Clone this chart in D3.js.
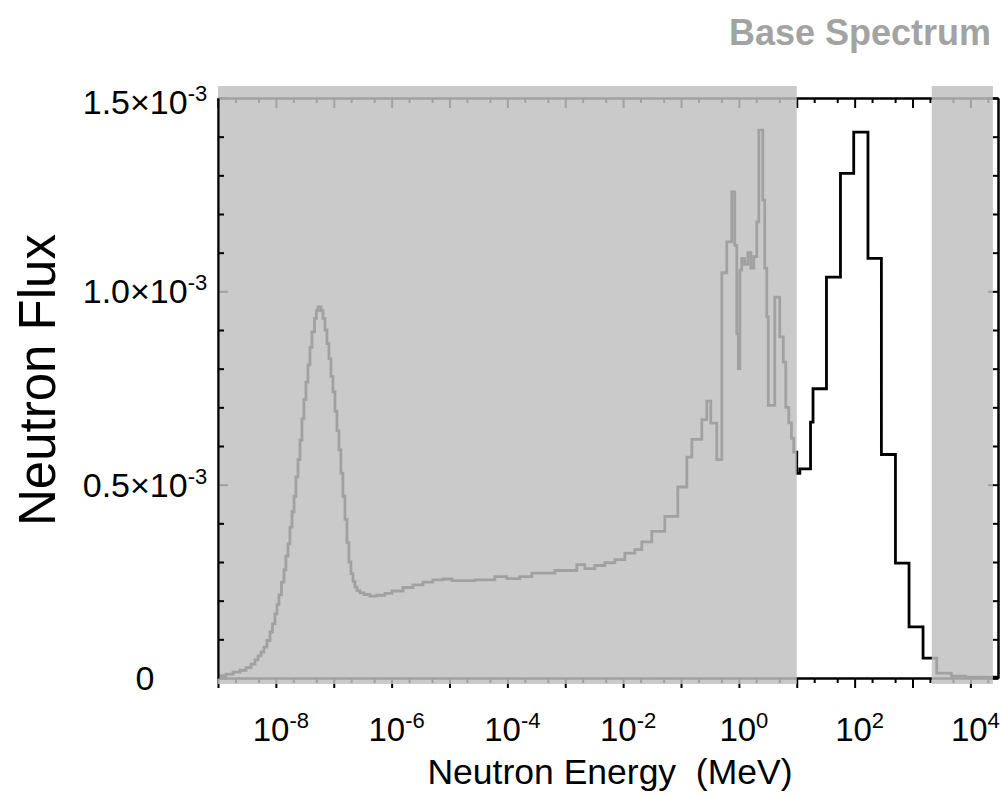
<!DOCTYPE html>
<html>
<head>
<meta charset="utf-8">
<script src="https://cdn.jsdelivr.net/npm/d3@7"></script>
<style>
  html, body { margin: 0; padding: 0; background: #fff; }
  text { font-family: "Liberation Sans", Arial, Helvetica, sans-serif; }
</style>
</head>
<body>
<svg id="chart" width="1001" height="796"></svg>
<script>
// Lower bin edges of the neutron energy groups (MeV); the last entry closes the final bin.
const energyEdges = [
  1.0e-9, 1.37e-9, 1.82e-9, 2.40e-9, 3.05e-9, 3.72e-9, 4.36e-9, 4.91e-9, 5.54e-9, 6.22e-9,
  7.01e-9, 7.91e-9, 8.73e-9, 9.64e-9, 1.045e-8, 1.13e-8, 1.25e-8, 1.38e-8, 1.49e-8, 1.62e-8,
  1.75e-8, 1.90e-8, 2.06e-8, 2.22e-8, 2.41e-8, 2.61e-8, 2.82e-8, 3.05e-8, 3.31e-8, 3.58e-8,
  3.88e-8, 4.20e-8, 4.65e-8, 5.02e-8, 5.33e-8, 6.01e-8, 6.50e-8, 7.05e-8, 7.64e-8, 8.26e-8,
  8.95e-8, 9.68e-8, 1.05e-7, 1.135e-7, 1.23e-7, 1.33e-7, 1.44e-7, 1.56e-7, 1.69e-7, 1.83e-7,
  1.98e-7, 2.15e-7, 2.32e-7, 2.52e-7, 2.84e-7, 3.33e-7, 4.22e-7, 5.57e-7, 7.66e-7, 1.01e-6,
  1.57e-6, 2.33e-6, 3.48e-6, 5.16e-6, 7.69e-6, 1.10e-5, 2.75e-5, 6.08e-5, 9.80e-5, 1.64e-4,
  2.65e-4, 6.61e-4, 1.58e-3, 2.18e-3, 3.24e-3, 4.83e-3, 7.20e-3, 1.07e-2, 1.59e-2, 2.10e-2,
  3.13e-2, 5.25e-2, 8.81e-2, 0.126, 0.154, 0.229, 0.279, 0.327, 0.415, 0.507,
  0.618, 0.753, 0.849, 0.920, 0.977, 1.04, 1.12, 1.26, 1.43, 1.61,
  1.81, 2.04, 2.21, 2.59, 2.80, 3.03, 3.22, 4.17, 5.08, 5.85,
  6.46, 7.28, 8.10, 8.87, 10, 11.3, 17.3, 19.1, 32.6, 56.9,
  96.4, 170, 290, 507, 871, 1520, 2620, 4700, 8300, 30000
];

// Group flux for each bin above.
const fluxValues = [
  0.006e-3, 0.010e-3, 0.015e-3, 0.020e-3, 0.027e-3, 0.036e-3, 0.047e-3, 0.057e-3, 0.067e-3, 0.080e-3,
  0.097e-3, 0.119e-3, 0.140e-3, 0.166e-3, 0.190e-3, 0.215e-3, 0.248e-3, 0.280e-3, 0.315e-3, 0.347e-3,
  0.390e-3, 0.430e-3, 0.470e-3, 0.520e-3, 0.565e-3, 0.615e-3, 0.670e-3, 0.720e-3, 0.765e-3, 0.810e-3,
  0.855e-3, 0.895e-3, 0.930e-3, 0.950e-3, 0.960e-3, 0.950e-3, 0.930e-3, 0.900e-3, 0.865e-3, 0.826e-3,
  0.780e-3, 0.740e-3, 0.690e-3, 0.640e-3, 0.590e-3, 0.530e-3, 0.470e-3, 0.410e-3, 0.350e-3, 0.300e-3,
  0.270e-3, 0.250e-3, 0.235e-3, 0.226e-3, 0.220e-3, 0.216e-3, 0.212e-3, 0.214e-3, 0.219e-3, 0.225e-3,
  0.234e-3, 0.241e-3, 0.248e-3, 0.254e-3, 0.256e-3, 0.252e-3, 0.254e-3, 0.262e-3, 0.257e-3, 0.262e-3,
  0.271e-3, 0.278e-3, 0.293e-3, 0.283e-3, 0.291e-3, 0.298e-3, 0.306e-3, 0.323e-3, 0.332e-3, 0.352e-3,
  0.379e-3, 0.418e-3, 0.494e-3, 0.571e-3, 0.617e-3, 0.668e-3, 0.716e-3, 0.659e-3, 0.565e-3, 1.048e-3,
  1.128e-3, 1.257e-3, 1.119e-3, 0.890e-3, 0.800e-3, 1.055e-3, 1.085e-3, 1.070e-3, 1.100e-3, 1.060e-3,
  1.090e-3, 1.180e-3, 1.417e-3, 1.236e-3, 1.060e-3, 0.934e-3, 0.705e-3, 0.985e-3, 0.882e-3, 0.817e-3,
  0.700e-3, 0.660e-3, 0.620e-3, 0.584e-3, 0.529e-3, 0.541e-3, 0.662e-3, 0.748e-3, 1.037e-3, 1.305e-3,
  1.412e-3, 1.085e-3, 0.578e-3, 0.297e-3, 0.132e-3, 0.0515e-3, 0.0127e-3, 0.005e-3, 0.002e-3
];

// Energy ranges covered by the grey shading (MeV).
const shadedBands = [[1e-9, 10], [2.15e3, 2.45e4]];

const energyDomain = [1e-9, 3e4];
const fluxDomain = [0, 1.5e-3];
const xLabelExponents = [-8, -6, -4, -2, 0, 2, 4];
const yTickValues = [0, 0.5e-3, 1.0e-3, 1.5e-3];
const yTickMantissas = ["0", "0.5", "1.0", "1.5"];
const yTickExponent = "-3";

const chartTitle = "Base Spectrum";
const xTitle = "Neutron Energy  (MeV)";
const yTitle = "Neutron Flux";

// ---------------------------------------------------------------
const plot = { left: 218, right: 998, top: 98, bottom: 678 };
const svg = d3.select("#chart");

const x = d3.scaleLog().domain(energyDomain).range([plot.left, plot.right]);
const y = d3.scaleLinear().domain(fluxDomain).range([plot.bottom, plot.top]);

// decade and 2/5 sub-decade tick positions
const decades = [];
const minors = [];
for (let e = -9; e <= 4; e++) {
  const d = Math.pow(10, e);
  if (d >= energyDomain[0] && d <= energyDomain[1]) decades.push(d);
  [2, 5].forEach(m => { const v = m * d; if (v > energyDomain[0] && v < energyDomain[1]) minors.push(v); });
}
const yMajor = [0, 0.5e-3, 1.0e-3, 1.5e-3];
const yMinor = d3.range(1, 15).filter(i => i % 5 !== 0).map(i => i * 1e-4);

function styleAxis(g) {
  g.selectAll("path.domain").attr("stroke", "#000").attr("stroke-width", 2);
  g.selectAll(".tick line").attr("stroke", "#000").attr("stroke-width", 2);
  g.selectAll(".tick text").remove();
  return g;
}

const axesLayer = svg.append("g");

// bottom axis (ticks outward)
axesLayer.append("g").attr("transform", `translate(0,${plot.bottom})`)
  .call(d3.axisBottom(x).tickValues(decades).tickSize(10).tickSizeOuter(0).tickFormat(""))
  .call(styleAxis);
axesLayer.append("g").attr("transform", `translate(0,${plot.bottom})`)
  .call(d3.axisBottom(x).tickValues(minors).tickSize(5).tickSizeOuter(0).tickFormat(""))
  .call(styleAxis);
// top axis (ticks inward)
axesLayer.append("g").attr("transform", `translate(0,${plot.top})`)
  .call(d3.axisTop(x).tickValues(decades).tickSize(-10).tickSizeOuter(0).tickFormat(""))
  .call(styleAxis);
axesLayer.append("g").attr("transform", `translate(0,${plot.top})`)
  .call(d3.axisTop(x).tickValues(minors).tickSize(-5).tickSizeOuter(0).tickFormat(""))
  .call(styleAxis);
// right axis (ticks inward)
axesLayer.append("g").attr("transform", `translate(${plot.right},0)`)
  .call(d3.axisRight(y).tickValues(yMajor).tickSize(-10).tickSizeOuter(0).tickFormat(""))
  .call(styleAxis);
axesLayer.append("g").attr("transform", `translate(${plot.right},0)`)
  .call(d3.axisRight(y).tickValues(yMinor).tickSize(-5).tickSizeOuter(0).tickFormat(""))
  .call(styleAxis);
// left axis major ticks (sit beneath the shading)
axesLayer.append("g").attr("transform", `translate(${plot.left},0)`)
  .call(d3.axisLeft(y).tickValues(yMajor).tickSize(-10).tickSizeOuter(0).tickFormat(""))
  .call(styleAxis);

// spectrum as a step histogram
const stepPoints = fluxValues.map((v, i) => [energyEdges[i], v]);
stepPoints.push([energyEdges[energyEdges.length - 1], fluxValues[fluxValues.length - 1]]);
const line = d3.line().x(d => x(d[0])).y(d => y(d[1])).curve(d3.curveStepAfter);
svg.append("path")
  .datum(stepPoints)
  .attr("d", line)
  .attr("fill", "none")
  .attr("stroke", "#000")
  .attr("stroke-width", 2.8)
  .attr("stroke-linejoin", "miter");

// grey shading over the excluded energy ranges
svg.append("g").selectAll("rect")
  .data(shadedBands)
  .join("rect")
  .attr("x", d => x(d[0]))
  .attr("width", d => x(d[1]) - x(d[0]))
  .attr("y", plot.top - 12)
  .attr("height", (plot.bottom + 6) - (plot.top - 12))
  .attr("fill", "rgb(192,192,192)")
  .attr("fill-opacity", 0.84);

// left axis line and minor ticks drawn above the shading
svg.append("g").attr("transform", `translate(${plot.left},0)`)
  .call(d3.axisLeft(y).tickValues(yMinor).tickSize(-6).tickSizeOuter(0).tickFormat(""))
  .call(styleAxis);

// x tick labels: 10^n
const xLabels = svg.append("g").attr("font-size", 33).attr("fill", "#000");
xLabels.selectAll("text")
  .data(xLabelExponents)
  .join("text")
  .attr("x", e => x(Math.pow(10, e)) + 5)
  .attr("y", 741)
  .attr("text-anchor", "middle")
  .each(function (e) {
    const t = d3.select(this);
    t.append("tspan").text("10");
    t.append("tspan").attr("font-size", 22).attr("dy", -13).text(String(e));
  });

// y tick labels: m×10^-3
const yLabels = svg.append("g").attr("font-size", 34).attr("fill", "#000");
yLabels.selectAll("text")
  .data(yTickValues)
  .join("text")
  .attr("x", 145)
  .attr("y", (v, i) => y(v) + 12 + (i === yTickValues.length - 1 ? 4 : 0))
  .attr("text-anchor", "middle")
  .each(function (v, i) {
    const t = d3.select(this);
    if (v === 0) { t.text(yTickMantissas[i]); return; }
    t.append("tspan").text(yTickMantissas[i] + "×10");
    t.append("tspan").attr("font-size", 22).attr("dy", -13).text(yTickExponent);
  });

// axis titles
svg.append("text")
  .attr("x", 610).attr("y", 784)
  .attr("text-anchor", "middle")
  .attr("font-size", 35.5)
  .attr("fill", "#000")
  .attr("xml:space", "preserve")
  .style("white-space", "pre")
  .text(xTitle);

svg.append("text")
  .attr("transform", "translate(55,380) rotate(-90)")
  .attr("text-anchor", "middle")
  .attr("font-size", 51)
  .attr("fill", "#000")
  .text(yTitle);

// chart title
svg.append("text")
  .attr("x", 991).attr("y", 45)
  .attr("text-anchor", "end")
  .attr("font-size", 36)
  .attr("font-weight", "bold")
  .attr("fill", "#a3a3a3")
  .text(chartTitle);
</script>
</body>
</html>
